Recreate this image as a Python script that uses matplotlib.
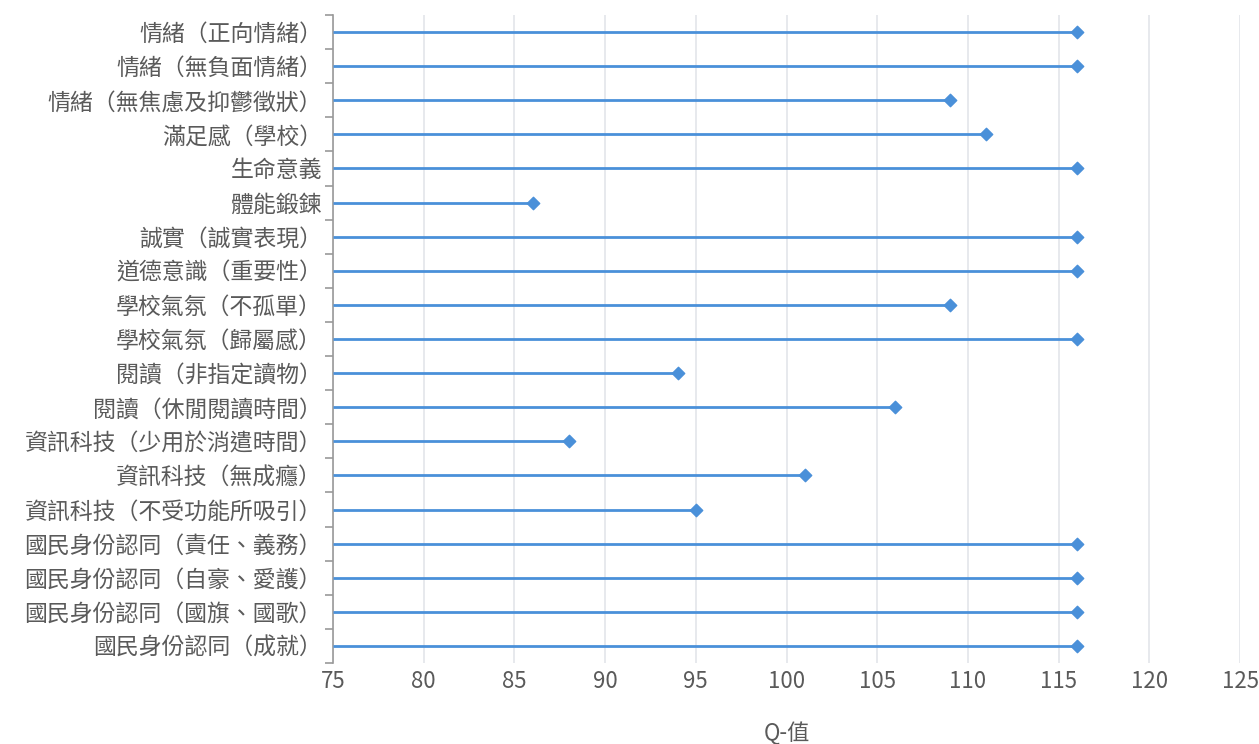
import matplotlib
matplotlib.use('Agg')
import matplotlib.pyplot as plt
import numpy as np

plt.rcParams['font.family'] = ['Noto Sans CJK TC', 'DejaVu Sans']

# 類別與 Q-值
categories = [
    '情緒（正向情緒）',
    '情緒（無負面情緒）',
    '情緒（無焦慮及抑鬱徵狀）',
    '滿足感（學校）',
    '生命意義',
    '體能鍛鍊',
    '誠實（誠實表現）',
    '道德意識（重要性）',
    '學校氣氛（不孤單）',
    '學校氣氛（歸屬感）',
    '閱讀（非指定讀物）',
    '閱讀（休閒閱讀時間）',
    '資訊科技（少用於消遣時間）',
    '資訊科技（無成癮）',
    '資訊科技（不受功能所吸引）',
    '國民身份認同（責任、義務）',
    '國民身份認同（自豪、愛護）',
    '國民身份認同（國旗、國歌）',
    '國民身份認同（成就）',
]
q_values = [116, 116, 109, 111, 116, 86, 116, 116, 109, 116,
            94, 106, 88, 101, 95, 116, 116, 116, 116]
x_ticks = [75, 80, 85, 90, 95, 100, 105, 110, 115, 120, 125]

line_color = '#4a90d9'
text_color = '#5a5a5a'

fig = plt.figure(figsize=(12.59, 7.44), dpi=100)
ax = fig.add_axes([333 / 1259, 1 - 663 / 744, (1240 - 333) / 1259, (663 - 15) / 744])

y = np.arange(len(categories))
ax.hlines(y, 75, q_values, color=line_color, linewidth=2, zorder=3)
ax.scatter(q_values, y, marker='D', s=40, color=line_color, zorder=4)

ax.set_xlim(75, 125)
ax.set_ylim(len(categories) - 0.5, -0.5)
ax.set_xticks(x_ticks)
ax.set_yticks(y)
ax.set_yticklabels(categories)
# 類別間的刻度
ax.set_yticks(np.arange(len(categories) + 1) - 0.5, minor=True)

ax.grid(axis='x', color='#e3e5ea', linewidth=1.2, zorder=0)
ax.set_axisbelow(True)

for s in ['top', 'right', 'bottom']:
    ax.spines[s].set_visible(False)
ax.spines['left'].set_color('#999999')
ax.spines['left'].set_linewidth(1.2)

ax.tick_params(axis='y', which='major', length=0, pad=8, labelsize=16.5, labelcolor=text_color)
ax.tick_params(axis='y', which='minor', length=6, color='#999999', width=1.2)
ax.tick_params(axis='x', length=0, pad=5, labelsize=16, labelcolor=text_color)

ax.set_xlabel('Q-值', fontsize=16, color=text_color, labelpad=21)

fig.savefig('out.png', dpi=100)
